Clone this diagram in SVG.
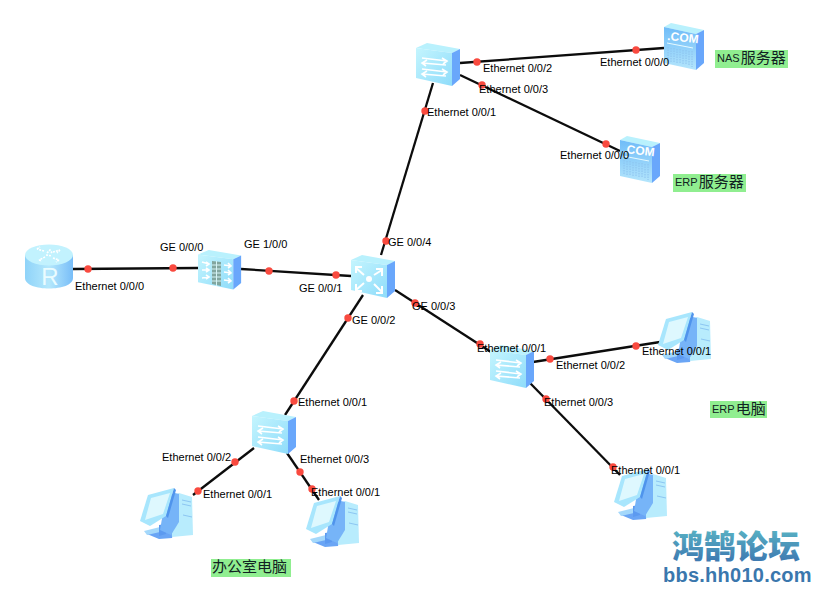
<svg xmlns="http://www.w3.org/2000/svg" width="829" height="603" viewBox="0 0 829 603">
<style>
.port{font:11px "Liberation Sans",Arial,sans-serif;fill:#000}
.tag{fill:#90ee90}
.tagt{font:11px "Liberation Sans","Noto Sans CJK SC",sans-serif;fill:#122}
.tagt tspan{font-size:15px}
.link{stroke:#0c0c0c;stroke-width:2.300;fill:none}
.dot{fill:#f94a3f}
.top{fill:#b9f1fd}
.side{fill:#69a7fb}
.front{fill:url(#face)}
.w{stroke:#fff;stroke-width:1.600;fill:none}
.rack{stroke:#8cc2ee;stroke-width:1;fill:none}
</style>
<defs>
<linearGradient id="face" x1="0" y1="0" x2="1" y2="1"><stop offset="0" stop-color="#c4f5fe"/><stop offset="1" stop-color="#8fdcfa"/></linearGradient>
<linearGradient id="srv" x1="0" y1="0" x2="0" y2="1"><stop offset="0" stop-color="#6fbcf8"/><stop offset="1" stop-color="#b5e6fc"/></linearGradient>
<linearGradient id="can" x1="0" y1="0" x2="1" y2="0"><stop offset="0" stop-color="#8fd3f9"/><stop offset=".5" stop-color="#b5e8fc"/><stop offset="1" stop-color="#78bdf8"/></linearGradient>
<linearGradient id="brand" x1="0" y1="0" x2="0" y2="1"><stop offset="0" stop-color="#5fc0c8"/><stop offset="1" stop-color="#3a70ae"/></linearGradient>
<g id="box">
<polygon class="top" points="0,5 11,0 44,6 36,10"/>
<polygon class="front" points="0,5 36,10 36,43 0,35"/>
<polygon class="side" points="36,10 44,6 44,36 36,43"/>
</g>
<g id="sw">
<use href="#box"/>
<path class="w" d="M6,15 L31,18 M26,15 L31,18 L27,21 M30,22 L6,20 M11,17 L6,20 L10,23 M6,26 L31,29 M26,26 L31,29 L27,32 M30,33 L6,31 M11,28 L6,31 L10,34"/>
</g>
<g id="server">
<polygon class="top" points="0,4 7,0 40,7 32,11"/>
<polygon fill="url(#srv)" points="0,4 32,11 32,47 0,40"/>
<polygon class="side" points="32,11 40,7 40,40 32,47"/>
<text x="3" y="17" transform="rotate(6 3 17)" font-family="Liberation Sans,sans-serif" font-weight="700" font-size="12" fill="#fff">.COM</text>
<path d="M3,20 L29,25" stroke="#e6faff" stroke-width="1" fill="none"/>
<path class="rack" stroke-dasharray="1.5 1" d="M4,24 V38 M7,25 V39 M10,25 V40 M13,26 V41 M16,26 V41 M19,27 V42 M22,27 V42 M25,28 V43 M28,28 V44"/>
</g>
<g id="pc">
<polygon fill="#6aa5f5" points="7,46 29,41 33,46 32,50 19,51"/>
<polygon fill="#a4d8fb" points="4,43 20,39 20,44 7,47"/>
<polygon fill="#5c9af0" points="19,37 26,36 26,46 19,48"/>
<polygon fill="#b8ecfd" points="30,9 39,5 52,9 53,47 32,49"/>
<polygon fill="#76b4f8" points="26,8 35,5 39,6 39,34 31,47 20,42"/>
<polygon fill="#a8e6fd" points="8,7 34,0 26,28 10,38 0,33"/>
<polygon fill="#4f94ec" points="34,0 36,2 28,30 26,28"/>
<polygon fill="#def8fe" points="11,10 30,5 23,26 5,32"/>
<path d="M42,12 L51,14 M42,16 L51,18 M43,27 L52,29" stroke="#8cc6f2" stroke-width="1" fill="none"/>
</g>
</defs>
<rect width="829" height="603" fill="#fff"/>

<g id="connectors">
<line class="link" x1="73" y1="269" x2="198" y2="268"/>
<line class="link" x1="241" y1="269" x2="351" y2="276"/>
<line class="link" x1="433" y1="83" x2="381" y2="255"/>
<line class="link" x1="460" y1="63" x2="664" y2="48"/>
<line class="link" x1="460" y1="75" x2="620" y2="151"/>
<line class="link" x1="395" y1="290" x2="491" y2="352"/>
<line class="link" x1="363" y1="295" x2="285" y2="415"/>
<line class="link" x1="254" y1="448" x2="193" y2="495"/>
<line class="link" x1="287" y1="453" x2="319" y2="500"/>
<line class="link" x1="533" y1="362" x2="660" y2="342"/>
<line class="link" x1="530" y1="383" x2="620" y2="475"/>
</g>

<g id="router">
<path d="M25,255 V278 C25,292 73,292 73,278 V255 Z" fill="url(#can)"/>
<ellipse cx="49" cy="255" rx="24" ry="10.500" fill="#c2f2fe"/>
<path class="w" d="M44,251 L37,249 M37,249 L40,247 M53,252 L60,250 M60,250 L57,253 M45,257 L39,260 M39,260 L42,261 M53,258 L59,260 M59,260 L56,262 M47,253 L50,250 L52,253 M46,255 L52,256" stroke-dasharray="2 1"/>
<text x="50" y="285" text-anchor="middle" font-family="Liberation Sans,sans-serif" font-size="24" fill="#eafcff">R</text>
</g>

<g id="firewall" transform="translate(198,250)">
<use href="#box" transform="scale(.98,.92)"/>
<polygon fill="#7d9f95" points="14,11 23,12 23,36 14,34" opacity=".9"/>
<path d="M14,15 H23 M14,19 H23 M14,23 H23 M14,27 H23 M14,31 H23 M18.500,11 V36" stroke="#d5f3f5" stroke-width="1" fill="none"/>
<path class="w" d="M4,12 L11,14 M8,12 L11,14 L8,16 M4,20 L11,20 M8,18 L11,20 L8,22 M4,28 L11,27 M8,25 L11,27 L8,29 M26,15 L33,16 M30,13 L33,16 L30,18 M26,22 L33,23 M30,20 L33,23 L30,25 M26,30 L33,31 M30,28 L33,31 L30,33"/>
</g>

<g id="core" transform="translate(351,255)">
<use href="#box"/>
<circle cx="18" cy="24" r="3" fill="#fff"/>
<path d="M5,13 L13,20 M5,18 V12 H11 M31,15 L23,20 M31,21 V14 H25 M5,35 L13,28 M5,29 V36 H11 M31,37 L23,29 M31,31 V38 H25" stroke="#fff" stroke-width="2" fill="none"/>
</g>

<g id="switch-top" transform="translate(416,43)"><use href="#sw"/></g>
<g id="switch-erp" transform="translate(490,345)"><use href="#sw"/></g>
<g id="switch-office" transform="translate(252,411)"><use href="#sw"/></g>
<g id="server-nas" transform="translate(664,23)"><use href="#server"/></g>
<g id="server-erp" transform="translate(620,136)"><use href="#server"/></g>
<g id="pc-office-1" transform="translate(140,488)"><use href="#pc"/></g>
<g id="pc-office-2" transform="translate(306,496)"><use href="#pc"/></g>
<g id="pc-erp-1" transform="translate(658,312)"><use href="#pc"/></g>
<g id="pc-erp-2" transform="translate(614,469)"><use href="#pc"/></g>

<g id="ports">
<circle class="dot" cx="477" cy="62" r="3.700"/>
<circle class="dot" cx="636" cy="50" r="3.700"/>
<circle class="dot" cx="482" cy="85" r="3.700"/>
<circle class="dot" cx="606" cy="144" r="3.700"/>
<circle class="dot" cx="425" cy="111" r="3.700"/>
<circle class="dot" cx="386" cy="241" r="3.700"/>
<circle class="dot" cx="88" cy="269" r="3.700"/>
<circle class="dot" cx="173" cy="268" r="3.700"/>
<circle class="dot" cx="269" cy="271" r="3.700"/>
<circle class="dot" cx="336" cy="275" r="3.700"/>
<circle class="dot" cx="348" cy="318" r="3.700"/>
<circle class="dot" cx="415" cy="303" r="3.700"/>
<circle class="dot" cx="294" cy="401" r="3.700"/>
<circle class="dot" cx="480" cy="344" r="3.700"/>
<circle class="dot" cx="550" cy="359" r="3.700"/>
<circle class="dot" cx="636" cy="346" r="3.700"/>
<circle class="dot" cx="546" cy="399" r="3.700"/>
<circle class="dot" cx="613" cy="467" r="3.700"/>
<circle class="dot" cx="235" cy="462" r="3.700"/>
<circle class="dot" cx="198" cy="491" r="3.700"/>
<circle class="dot" cx="300" cy="472" r="3.700"/>
<circle class="dot" cx="312" cy="489" r="3.700"/>
</g>

<g id="port-labels">
<text class="port" x="483" y="72">Ethernet 0/0/2</text>
<text class="port" x="600" y="66">Ethernet 0/0/0</text>
<text class="port" x="479" y="93">Ethernet 0/0/3</text>
<text class="port" x="427" y="116">Ethernet 0/0/1</text>
<text class="port" x="560" y="159">Ethernet 0/0/0</text>
<text class="port" x="388" y="246">GE 0/0/4</text>
<text class="port" x="160" y="251">GE 0/0/0</text>
<text class="port" x="244" y="248">GE 1/0/0</text>
<text class="port" x="75" y="290">Ethernet 0/0/0</text>
<text class="port" x="299" y="292">GE 0/0/1</text>
<text class="port" x="352" y="324">GE 0/0/2</text>
<text class="port" x="412" y="310">GE 0/0/3</text>
<text class="port" x="477" y="352">Ethernet 0/0/1</text>
<text class="port" x="556" y="369">Ethernet 0/0/2</text>
<text class="port" x="642" y="355">Ethernet 0/0/1</text>
<text class="port" x="544" y="406">Ethernet 0/0/3</text>
<text class="port" x="611" y="474">Ethernet 0/0/1</text>
<text class="port" x="298" y="406">Ethernet 0/0/1</text>
<text class="port" x="162" y="461">Ethernet 0/0/2</text>
<text class="port" x="300" y="463">Ethernet 0/0/3</text>
<text class="port" x="203" y="498">Ethernet 0/0/1</text>
<text class="port" x="311" y="496">Ethernet 0/0/1</text>
</g>

<g id="tag-nas"><rect class="tag" x="715" y="50" width="73" height="18"/><text class="tagt" x="717" y="62">NAS<tspan dx="1" y="63">服务器</tspan></text></g>
<g id="tag-erp-server"><rect class="tag" x="673" y="174" width="73" height="18"/><text class="tagt" x="675" y="186">ERP<tspan dx="1" y="187">服务器</tspan></text></g>
<g id="tag-erp-pc"><rect class="tag" x="710" y="401" width="57" height="17"/><text class="tagt" x="712" y="413">ERP<tspan dx="1" y="414">电脑</tspan></text></g>
<g id="tag-office"><rect class="tag" x="211" y="559" width="80" height="18"/><text class="tagt" x="212" y="572"><tspan>办公室电脑</tspan></text></g>

<g id="brand-mark">
<text x="672" y="558" font-family="Noto Sans CJK SC,sans-serif" font-weight="900" font-size="32" fill="url(#brand)">鸿鹄论坛</text>
<text x="663" y="582" font-family="Liberation Sans,sans-serif" font-weight="700" font-size="20" letter-spacing=".25" fill="#3a77ad">bbs.hh010.com</text>
</g>
</svg>
